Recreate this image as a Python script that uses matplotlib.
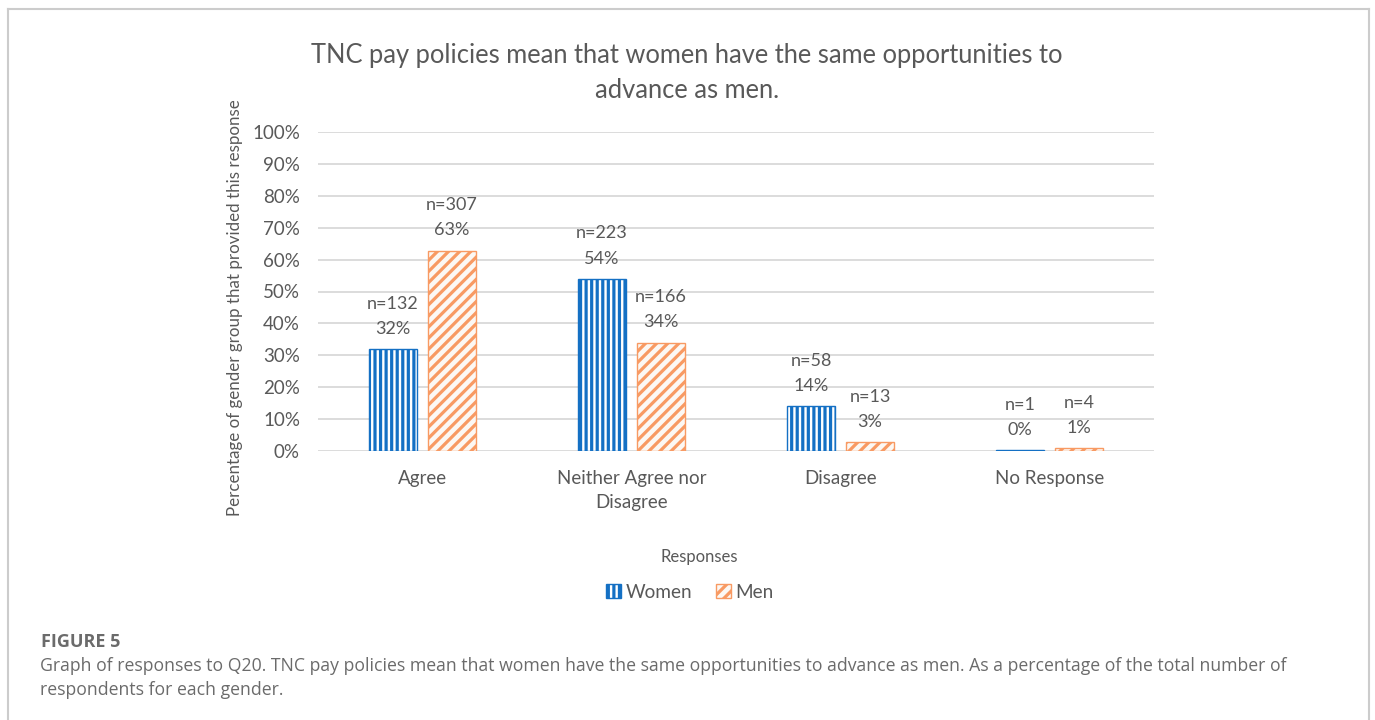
import matplotlib
matplotlib.use("Agg")
import matplotlib.pyplot as plt
from matplotlib.patches import Patch
from matplotlib.lines import Line2D
from matplotlib.ticker import PercentFormatter
import numpy as np

# Data
categories = ["Agree", "Neither Agree nor\nDisagree", "Disagree", "No Response"]
women_pct = [31.9, 53.9, 14.0, 0.2]
men_pct = [62.7, 33.9, 2.7, 0.8]
women_n = [132, 223, 58, 1]
men_n = [307, 166, 13, 4]
y_ticks = [0, 10, 20, 30, 40, 50, 60, 70, 80, 90, 100]

title = "TNC pay policies mean that women have the same opportunities to\nadvance as men."
caption_head = "FIGURE 5"
caption = ("Graph of responses to Q20. TNC pay policies mean that women have the same opportunities to advance as men. "
           "As a percentage of the total number of\nrespondents for each gender.")

TEXT = "#595959"
BLUE = "#1470c4"
ORANGE = "#f89a63"

plt.rcParams["font.family"] = ["Lato", "DejaVu Sans"]
plt.rcParams["hatch.linewidth"] = 2.3

W, H = 1375, 720
fig = plt.figure(figsize=(W / 100, H / 100), dpi=100)

def px(x, y):
    # pixel (from top-left) -> figure fraction
    return x / W, 1 - y / H

# axes box in pixels: x 318..1154, y 132..451
left, right, top, bottom = 318, 1154, 132, 451
ax = fig.add_axes([left / W, 1 - bottom / H, (right - left) / W, (bottom - top) / H])

x = np.arange(len(categories))
width = 0.23
off = 0.141

wb = ax.bar(x - off, women_pct, width, facecolor="white", edgecolor=BLUE,
            hatch="|||", linewidth=1.0, zorder=3)
mb = ax.bar(x + off, men_pct, width, facecolor="#fcf8f4", edgecolor=ORANGE,
            hatch="///", linewidth=1.0, zorder=3)

for xi, p, n in zip(x - off, women_pct, women_n):
    ax.annotate(f"n={n}\n{p:.0f}%", (xi, p), xytext=(0, 9), textcoords="offset points",
                ha="center", va="bottom", fontsize=13, color=TEXT, linespacing=1.7)
for xi, p, n in zip(x + off, men_pct, men_n):
    ax.annotate(f"n={n}\n{p:.0f}%", (xi, p), xytext=(0, 9), textcoords="offset points",
                ha="center", va="bottom", fontsize=13, color=TEXT, linespacing=1.7)

ax.set_xlim(-0.5, len(categories) - 0.5)
ax.set_ylim(0, 100)
ax.set_yticks(y_ticks)
ax.yaxis.set_major_formatter(PercentFormatter(decimals=0))
ax.set_xticks(x)
ax.set_xticklabels(categories, fontsize=13.5, color=TEXT, linespacing=1.5)
ax.tick_params(axis="y", length=0, pad=13, labelsize=13.5, labelcolor=TEXT)
ax.tick_params(axis="x", length=0, pad=14)
ax.grid(axis="y", color="#d9d9d9", linewidth=1.3, zorder=0)
ax.set_axisbelow(True)
for s in ax.spines.values():
    s.set_visible(False)

# title, axis titles
fig.text(*px(687, 73), title, ha="center", va="center", fontsize=18.4, color=TEXT, linespacing=1.5)
fig.text(*px(235, 308), "Percentage of gender group that provided this response", rotation=90,
         ha="center", va="center", fontsize=12.2, color=TEXT)
fig.text(*px(699, 557), "Responses", ha="center", va="center", fontsize=12, color=TEXT)

handles = [Patch(facecolor="white", edgecolor=BLUE, hatch="|||", label="Women"),
           Patch(facecolor="#fcf8f4", edgecolor=ORANGE, hatch="///", label="Men")]
fig.legend(handles=handles, loc="center", bbox_to_anchor=px(690, 592), ncol=2, frameon=False,
           fontsize=13.7, labelcolor=TEXT, handlelength=0.8, handleheight=0.8,
           handletextpad=0.25, columnspacing=1.2)

# caption under the chart
fig.text(*px(41, 642), caption_head, ha="left", va="center", fontsize=13, fontweight="bold",
         color="#6b6b6b", family=["Open Sans", "DejaVu Sans"])
fig.text(*px(40, 678), caption, ha="left", va="center", fontsize=12.7, color="#6b6b6b",
         family=["Open Sans", "DejaVu Sans"], linespacing=1.4)

# light frame round the chart, open at the bottom
frame = dict(color="#cccccc", linewidth=1.5, transform=fig.transFigure)
fig.add_artist(Line2D([8 / W, 8 / W], [0, 1 - 9 / H], **frame))
fig.add_artist(Line2D([8 / W, 1369 / W], [1 - 9 / H, 1 - 9 / H], **frame))
fig.add_artist(Line2D([1369 / W, 1369 / W], [0, 1 - 9 / H], **frame))

fig.savefig("out.png", dpi=100)
